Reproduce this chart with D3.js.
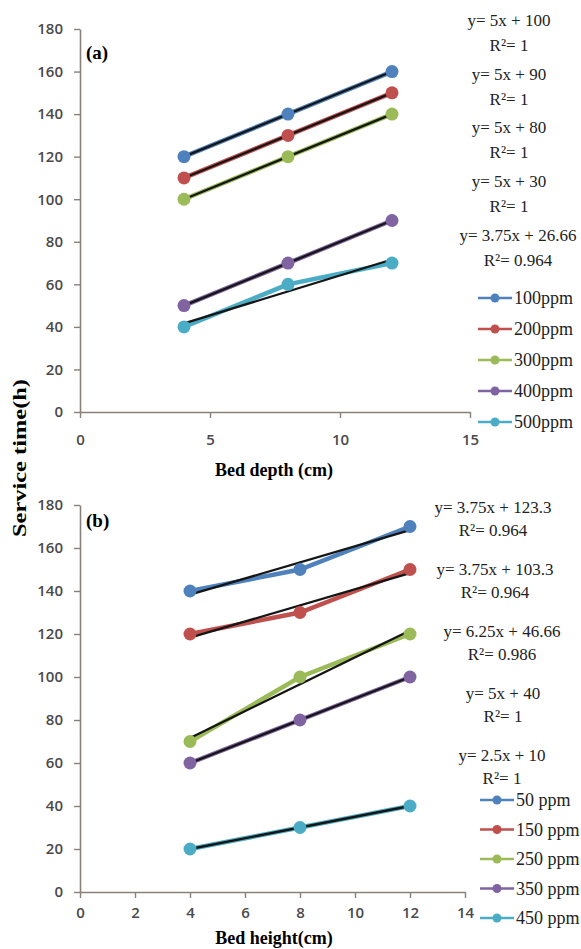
<!DOCTYPE html>
<html>
<head>
<meta charset="utf-8">
<script src="https://cdn.jsdelivr.net/npm/d3@7"></script>
<style>
  body { margin: 0; background: #fff; }
  svg { display: block; }
</style>
</head>
<body>
<svg id="chart" width="581" height="949"></svg>
<script>
// ---- data ----
const colors = ["#4F81BD", "#C0504D", "#9BBB59", "#8064A2", "#4BACC6"];

// panel (a): service time vs bed depth
const depthX = [4, 8, 12];
const depthSeries = ["100ppm", "200ppm", "300ppm", "400ppm", "500ppm"];
const depthValues = [
  [120, 140, 160],
  [110, 130, 150],
  [100, 120, 140],
  [50, 70, 90],
  [40, 60, 70]
];
const depthFits = [[5, 100], [5, 90], [5, 80], [5, 30], [3.75, 26.66]];
const depthEqs = ["y= 5x + 100", "y= 5x + 90", "y= 5x + 80", "y= 5x + 30", "y= 3.75x + 26.66"];
const depthR2 = ["R²= 1", "R²= 1", "R²= 1", "R²= 1", "R²= 0.964"];
const depthTicks = [0, 5, 10, 15];

// panel (b): service time vs bed height
const heightX = [4, 8, 12];
const heightSeries = ["50 ppm", "150 ppm", "250 ppm", "350 ppm", "450 ppm"];
const heightValues = [
  [140, 150, 170],
  [120, 130, 150],
  [70, 100, 120],
  [60, 80, 100],
  [20, 30, 40]
];
const heightFits = [[3.75, 123.3], [3.75, 103.3], [6.25, 46.66], [5, 40], [2.5, 10]];
const heightEqs = ["y= 3.75x + 123.3", "y= 3.75x + 103.3", "y= 6.25x + 46.66", "y= 5x + 40", "y= 2.5x + 10"];
const heightR2 = ["R²= 0.964", "R²= 0.964", "R²= 0.986", "R²= 1", "R²= 1"];
const heightTicks = [0, 2, 4, 6, 8, 10, 12, 14];

const yTicks = [0, 20, 40, 60, 80, 100, 120, 140, 160, 180];

const svg = d3.select("#chart");
const serif = "'Liberation Serif', 'Times New Roman', serif";
const axisColor = "#8a807a";

function drawPanel(p) {
  const x = d3.scaleLinear().domain(p.xDomain).range(p.xRange);
  const y = d3.scaleLinear().domain([0, 180]).range(p.yRange);
  const g = svg.append("g");

  // axes
  const ya = g.append("g")
      .attr("transform", `translate(${p.xRange[0]},0)`)
      .call(d3.axisLeft(y).tickValues(yTicks).tickSize(6).tickPadding(11).tickSizeOuter(0));
  const xa = g.append("g")
      .attr("transform", `translate(0,${p.yRange[0]})`)
      .call(d3.axisBottom(x).tickValues(p.ticks).tickSize(6).tickPadding(p.xPad).tickSizeOuter(0));
  [ya, xa].forEach(a => {
    a.select(".domain").attr("stroke", axisColor).attr("stroke-width", 1.6);
    a.selectAll(".tick line").attr("stroke", axisColor).attr("stroke-width", 1.4);
    a.selectAll(".tick text")
      .attr("font-family", "'Open Sans', sans-serif")
      .attr("font-size", 15)
      .attr("font-weight", 600)
      .attr("fill", "#4a4a4a");
  });

  const line = d3.line().x((d, i) => x(p.xs[i])).y(d => y(d));

  // series lines
  p.values.forEach((vals, k) => {
    g.append("path")
      .attr("d", line(vals))
      .attr("fill", "none")
      .attr("stroke", colors[k])
      .attr("stroke-width", 4.5);
  });

  // linear trendlines
  p.fits.forEach((f, k) => {
    const x0 = d3.min(p.xs), x1 = d3.max(p.xs);
    g.append("line")
      .attr("x1", x(x0)).attr("y1", y(f[0] * x0 + f[1]))
      .attr("x2", x(x1)).attr("y2", y(f[0] * x1 + f[1]))
      .attr("stroke", "#151515")
      .attr("stroke-width", 2.3);
  });

  // markers
  p.values.forEach((vals, k) => {
    g.selectAll(null)
      .data(vals)
      .enter().append("circle")
      .attr("cx", (d, i) => x(p.xs[i]))
      .attr("cy", d => y(d))
      .attr("r", 6.5)
      .attr("fill", colors[k]);
  });

  // panel label
  g.append("text")
    .attr("x", 86).attr("y", p.labelY)
    .attr("font-family", serif).attr("font-weight", "bold").attr("font-size", 19)
    .text(p.label);

  // x axis title
  g.append("text")
    .attr("x", 274).attr("y", p.titleY)
    .attr("text-anchor", "middle")
    .attr("font-family", serif).attr("font-weight", "bold").attr("font-size", 18)
    .text(p.title);

  // equations
  p.eqs.forEach((t, k) => {
    const gy = p.eqTop + k * p.eqStep;
    g.append("text")
      .attr("x", p.eqX[k]).attr("y", gy).attr("dy", "0.35em")
      .attr("text-anchor", "middle")
      .attr("font-family", serif).attr("font-size", 17).attr("fill", "#222")
      .text(t);
    g.append("text")
      .attr("x", p.eqX[k]).attr("y", gy + p.eqGap).attr("dy", "0.35em")
      .attr("text-anchor", "middle")
      .attr("font-family", serif).attr("font-size", 17).attr("fill", "#222")
      .text(p.r2[k]);
  });

  // legend
  const lg = g.append("g");
  p.names.forEach((n, k) => {
    const ly = p.legTop + k * p.legStep;
    lg.append("line")
      .attr("x1", p.legX).attr("x2", p.legX + 34)
      .attr("y1", ly).attr("y2", ly)
      .attr("stroke", colors[k]).attr("stroke-width", 2.5);
    lg.append("circle")
      .attr("cx", p.legX + 17).attr("cy", ly).attr("r", 4.5)
      .attr("fill", colors[k]);
    lg.append("text")
      .attr("x", p.legX + 36).attr("y", ly).attr("dy", "0.35em")
      .attr("font-family", serif).attr("font-size", 18).attr("fill", "#222")
      .text(n);
  });
}

drawPanel({
  xs: depthX, values: depthValues, fits: depthFits, names: depthSeries,
  eqs: depthEqs, r2: depthR2, ticks: depthTicks,
  xDomain: [0, 15], xRange: [80, 470], yRange: [412, 29], xPad: 16,
  label: "(a)", labelY: 59, title: "Bed depth (cm)", titleY: 476,
  eqX: [509, 509, 509, 509, 518], eqTop: 20, eqStep: 53.7, eqGap: 25,
  legX: 478, legTop: 298, legStep: 31
});

drawPanel({
  xs: heightX, values: heightValues, fits: heightFits, names: heightSeries,
  eqs: heightEqs, r2: heightR2, ticks: heightTicks,
  xDomain: [0, 14], xRange: [80, 465], yRange: [892, 505], xPad: 9,
  label: "(b)", labelY: 527, title: "Bed height(cm)", titleY: 944,
  eqX: [493, 495, 502, 503, 502], eqTop: 507, eqStep: 62, eqGap: 23,
  legX: 480, legTop: 800, legStep: 29.5
});

// shared y axis title
svg.append("text")
  .attr("transform", "translate(26,458) rotate(-90)")
  .attr("text-anchor", "middle")
  .attr("font-family", serif).attr("font-weight", "bold").attr("font-size", 19)
  .attr("textLength", 158).attr("lengthAdjust", "spacingAndGlyphs")
  .text("Service time(h)");
</script>
</body>
</html>
